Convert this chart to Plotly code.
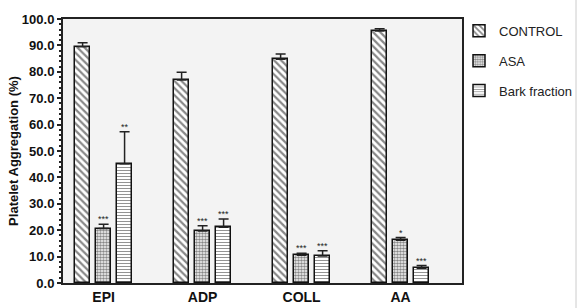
import plotly.graph_objects as go
import numpy as np

categories = ["EPI", "ADP", "COLL", "AA"]
series_names = ["CONTROL", "ASA", "Bark fraction"]
control_vals = [89.5, 76.9, 84.8, 95.5]
control_err = [1.5, 2.9, 1.9, 0.8]
asa_vals = [20.6, 19.7, 10.5, 16.2]
asa_err = [1.7, 2.0, 0.8, 1.0]
bark_vals = [45.2, 21.1, 10.2, 5.6]
bark_err = [12.1, 3.1, 2.0, 1.0]
asa_sig = ["***", "***", "***", "*"]
bark_sig = ["**", "***", "***", "***"]
ytick_vals = [0, 10, 20, 30, 40, 50, 60, 70, 80, 90, 100]

values = [control_vals, asa_vals, bark_vals]
errors = [control_err, asa_err, bark_err]
sigs = [None, asa_sig, bark_sig]
patterns = ["\\", ".", "-"]
pat_size = [5, 3, 3]
pat_solid = [0.45, 0.6, 0.3]
offsets = [-0.212, 0.0, 0.212]
bar_w = 0.152

xs = np.arange(len(categories))
fig = go.Figure()
for i, name in enumerate(series_names):
    fig.add_trace(go.Bar(
        x=xs + offsets[i], y=values[i], width=bar_w, name=name, legendgroup=name,
        marker=dict(color="white", line=dict(color="#111", width=1.5),
                    pattern=dict(shape=patterns[i], fgcolor="#111", bgcolor="white",
                                 size=pat_size[i], solidity=pat_solid[i])),
        error_y=dict(type="data", array=errors[i], arrayminus=[0]*len(categories),
                     symmetric=False, color="#222", thickness=1.5, width=5),
    ))
    if sigs[i]:
        for j in range(len(categories)):
            fig.add_annotation(x=xs[j] + offsets[i], y=values[i][j] + errors[i][j],
                               text=sigs[i][j], showarrow=False, yanchor="bottom",
                               font=dict(family="Arial", size=9, color="#222"), yshift=-2)

fig.update_layout(
    width=577, height=308, margin=dict(l=63, r=115, t=19, b=25, autoexpand=False),
    paper_bgcolor="white", plot_bgcolor="#f3f3f3",
    font=dict(family="Arial", color="#111"),
    barmode="overlay", bargap=0,
    legend=dict(x=0.9925, y=1.012, xanchor="left", yanchor="top",
                font=dict(family="Arial", size=13, color="#222"),
                tracegroupgap=10, bgcolor="rgba(0,0,0,0)"),
    showlegend=True,
)
fig.update_xaxes(range=[-0.41, 3.62], tickvals=list(xs), ticktext=[f"<b>{c}</b>" for c in categories],
                 tickfont=dict(family="Arial", size=14, color="#111"), showgrid=False, automargin=False,
                 showline=True, linecolor="#222", linewidth=2, mirror=True, ticks="", zeroline=False)
fig.update_yaxes(range=[0, 100], tickvals=ytick_vals, ticktext=[f"<b>{v:.1f}</b>" for v in ytick_vals],
                 tickfont=dict(family="Arial", size=13, color="#111"), showgrid=False, automargin=False,
                 showline=True, linecolor="#222", linewidth=2, mirror=True,
                 ticks="outside", ticklen=4, tickwidth=1.5, tickcolor="#222",
                 minor=dict(ticks="outside", ticklen=2, dtick=2, tickcolor="#222"),
                 title=dict(text="<b>Platelet Aggregation (%)</b>", font=dict(family="Arial", size=13), standoff=0),
                 zeroline=False)
fig.add_shape(type="line", xref="paper", yref="paper", x0=(576-63)/399, x1=(576-63)/399, y0=-0.1, y1=1.1,
              line=dict(color="#ccc", width=1))
fig.write_html("out.html", config={"displayModeBar": False},
               post_script="document.body.style.margin='0';document.body.style.overflow='hidden';")
